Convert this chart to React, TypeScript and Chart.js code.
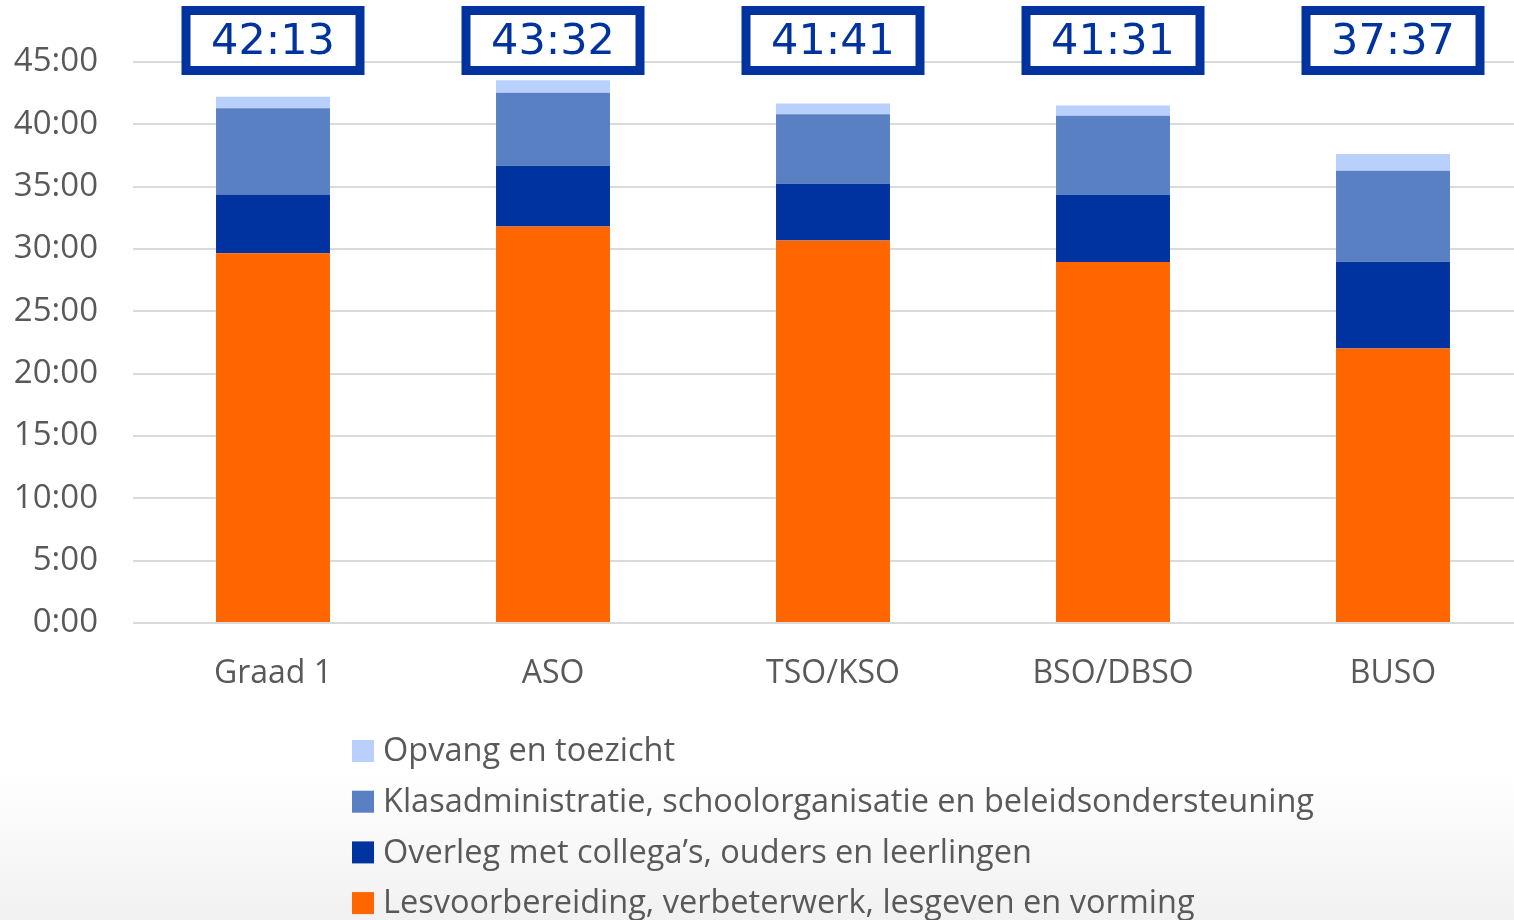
import React, { useEffect, useRef } from "react";
import { Chart, registerables } from "chart.js";

Chart.register(...registerables);

// ---- Data (hours, decimal) ----
const categories = ["Graad 1", "ASO", "TSO/KSO", "BSO/DBSO", "BUSO"];

const lesvoorbereiding = [29.65, 31.81, 30.69, 28.95, 22.02];
const overleg = [4.73, 4.87, 4.54, 5.4, 6.95];
const klasadministratie = [6.92, 5.86, 5.57, 6.34, 7.31];
const opvang = [0.92, 0.99, 0.88, 0.83, 1.34];

const totalLabels = ["42:13", "43:32", "41:41", "41:31", "37:37"];

const seriesLabels = [
  "Lesvoorbereiding, verbeterwerk, lesgeven en vorming",
  "Overleg met collega’s, ouders en leerlingen",
  "Klasadministratie, schoolorganisatie en beleidsondersteuning",
  "Opvang en toezicht",
];
const seriesColors = ["#FF6600", "#0033A0", "#5880C2", "#B9CFFC"];

const yMax = 45;
const yStep = 5;

const FONT = "'Open Sans', 'Noto Sans', sans-serif";
const TEXT_COLOR = "#595959";

function fmtHours(v: number): string {
  const h = Math.floor(v + 1e-9);
  const m = Math.round((v - h) * 60);
  return `${h}:${String(m).padStart(2, "0")}`;
}

const totalsPlugin = {
  id: "totalsBoxes",
  afterDatasetsDraw(chart: any) {
    const ctx = chart.ctx as CanvasRenderingContext2D;
    const xs = chart.scales.x;
    const top = chart.chartArea.top;
    ctx.save();
    totalLabels.forEach((t, i) => {
      const cx = xs.getPixelForValue(i);
      const w = 174;
      const h = 60;
      const bx = cx - w / 2;
      const by = top - 51.5;
      ctx.fillStyle = "#ffffff";
      ctx.fillRect(bx, by, w, h);
      ctx.lineWidth = 9;
      ctx.strokeStyle = "#0033A0";
      ctx.strokeRect(bx, by, w, h);
      ctx.fillStyle = "#0033A0";
      ctx.font = "43px 'DejaVu Sans', Verdana, sans-serif";
      ctx.textAlign = "center";
      ctx.textBaseline = "middle";
      ctx.fillText(t, cx, by + h / 2 + 2);
    });
    ctx.restore();
  },
};

const legendPlugin = {
  id: "columnLegend",
  afterDraw(chart: any) {
    const ctx = chart.ctx as CanvasRenderingContext2D;
    const area = chart.chartArea;
    const items = [...chart.data.datasets].reverse();
    ctx.save();
    ctx.font = `32.5px ${FONT}`;
    const maxW = Math.max(...items.map((d: any) => ctx.measureText(d.label).width));
    const boxSize = 22;
    const gap = 9;
    const blockW = boxSize + gap + maxW;
    const left = (area.left + area.right) / 2 - blockW / 2;
    items.forEach((d: any, i: number) => {
      const y = area.bottom + 128 + i * 50.7;
      ctx.fillStyle = d.backgroundColor;
      ctx.fillRect(left, y - boxSize / 2, boxSize, boxSize);
      ctx.fillStyle = TEXT_COLOR;
      ctx.textAlign = "left";
      ctx.textBaseline = "middle";
      ctx.fillText(d.label, left + boxSize + gap, y + 1);
    });
    ctx.restore();
  },
};

export default function App() {
  const canvasRef = useRef<HTMLCanvasElement | null>(null);

  useEffect(() => {
    if (!canvasRef.current) return;
    const seriesData = [lesvoorbereiding, overleg, klasadministratie, opvang];
    const chart = new Chart(canvasRef.current, {
      type: "bar",
      data: {
        labels: categories,
        datasets: seriesData.map((d, i) => ({
          label: seriesLabels[i],
          data: d,
          backgroundColor: seriesColors[i],
          borderWidth: 0,
          categoryPercentage: 1,
          barPercentage: 0.407,
        })),
      },
      options: {
        animation: false,
        responsive: false,
        maintainAspectRatio: false,
        layout: {
          padding: { top: 62, right: 7, bottom: 257, left: 0 },
        },
        plugins: {
          legend: { display: false },
          tooltip: { enabled: false },
        },
        scales: {
          x: {
            stacked: true,
            grid: { display: false, drawTicks: false },
            border: { display: false },
            ticks: {
              color: TEXT_COLOR,
              font: { family: FONT, size: 32 },
              padding: 32,
              maxRotation: 0,
            },
            afterFit(scale: any) {
              scale.height = 60;
            },
          },
          y: {
            stacked: true,
            min: 0,
            max: yMax,
            grid: { color: "#dadada", lineWidth: 2, drawTicks: false },
            border: { display: false },
            ticks: {
              stepSize: yStep,
              color: TEXT_COLOR,
              font: { family: FONT, size: 33 },
              padding: 35,
              callback: (v: any) => fmtHours(Number(v)),
            },
            afterFit(scale: any) {
              scale.width = 133;
            },
          },
        },
      },
      plugins: [totalsPlugin, legendPlugin],
    });
    return () => chart.destroy();
  }, []);

  return (
    <div
      style={{
        position: "fixed",
        left: 0,
        top: 0,
        width: "100vw",
        height: "100vh",
        overflow: "hidden",
        background: "linear-gradient(to bottom, #ffffff 0%, #ffffff 84%, #f1f1f1 100%)",
      }}
    >
      <canvas
        ref={canvasRef}
        width={1540}
        height={940}
        style={{ position: "absolute", left: 0, top: 0, width: 1540, height: 940 }}
      />
    </div>
  );
}
